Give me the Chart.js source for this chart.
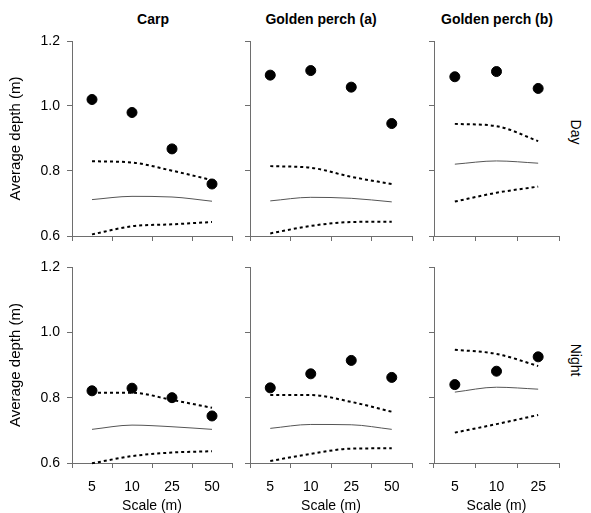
<!DOCTYPE html>
<html>
<head>
<meta charset="utf-8">
<script src="https://cdn.jsdelivr.net/npm/chart.js@4.4.1/dist/chart.umd.min.js"></script>
<style>
  body { margin: 0; background: #fff; width: 591px; height: 513px; position: relative; overflow: hidden; font-family: 'Liberation Sans', Arial, sans-serif; }
  canvas { position: absolute; }
  .ttl { position: absolute; font-weight: bold; font-size: 14px; text-align: center; white-space: nowrap; transform: translateX(-50%); }
  .row { position: absolute; font-size: 14px; writing-mode: vertical-rl; transform: translate(-50%, -50%); white-space: nowrap; }
</style>
</head>
<body>
<div class="ttl" style="left:153px; top:11px;">Carp</div>
<div class="ttl" style="left:321px; top:11px;">Golden perch (a)</div>
<div class="ttl" style="left:497px; top:11px;">Golden perch (b)</div>
<div class="row" style="left:576px; top:132px;">Day</div>
<div class="row" style="left:576px; top:360px;">Night</div>

<canvas id="carpDay" width="240" height="211" style="left:0; top:31px;"></canvas>
<canvas id="gpaDay" width="180" height="211" style="left:240px; top:31px;"></canvas>
<canvas id="gpbDay" width="145" height="211" style="left:424px; top:31px;"></canvas>
<canvas id="carpNight" width="240" height="256" style="left:0; top:257px;"></canvas>
<canvas id="gpaNight" width="180" height="256" style="left:240px; top:257px;"></canvas>
<canvas id="gpbNight" width="145" height="256" style="left:424px; top:257px;"></canvas>

<script>
// scale categories (m)
const scales4 = ['5', '10', '25', '50'];
const scales3 = ['5', '10', '25'];
const depthTicks = [0.6, 0.8, 1.0, 1.2];

// Carp - day
const carpDayObs = [1.02, 0.98, 0.868, 0.76];
const carpDayUpper = [0.83, 0.826, 0.801, 0.772];
const carpDayMid = [0.712, 0.722, 0.72, 0.707];
const carpDayLower = [0.605, 0.63, 0.636, 0.643];

// Golden perch (a) - day
const gpaDayObs = [1.095, 1.109, 1.058, 0.946];
const gpaDayUpper = [0.815, 0.81, 0.782, 0.76];
const gpaDayMid = [0.708, 0.719, 0.716, 0.705];
const gpaDayLower = [0.608, 0.631, 0.643, 0.644];

// Golden perch (b) - day
const gpbDayObs = [1.09, 1.106, 1.054];
const gpbDayUpper = [0.945, 0.938, 0.892];
const gpbDayMid = [0.821, 0.831, 0.824];
const gpbDayLower = [0.706, 0.733, 0.752];

// Carp - night
const carpNightObs = [0.821, 0.829, 0.8, 0.744];
const carpNightUpper = [0.815, 0.815, 0.793, 0.769];
const carpNightMid = [0.703, 0.716, 0.711, 0.703];
const carpNightLower = [0.599, 0.621, 0.632, 0.636];

// Golden perch (a) - night
const gpaNightObs = [0.83, 0.873, 0.914, 0.862];
const gpaNightUpper = [0.808, 0.808, 0.787, 0.757];
const gpaNightMid = [0.706, 0.718, 0.717, 0.703];
const gpaNightLower = [0.606, 0.628, 0.644, 0.645];

// Golden perch (b) - night
const gpbNightObs = [0.84, 0.881, 0.925];
const gpbNightUpper = [0.947, 0.934, 0.897];
const gpbNightMid = [0.817, 0.832, 0.826];
const gpbNightLower = [0.693, 0.719, 0.747];

Chart.defaults.font.family = "'Liberation Sans', Arial, sans-serif";
Chart.defaults.font.size = 14;
Chart.defaults.color = '#000';

const axisGrey = '#6e6e6e';

function dashed(data) {
    return {
        data: data, borderColor: '#000', borderWidth: 2, borderDash: [3, 3],
        pointRadius: 0, cubicInterpolationMode: 'monotone', fill: false
    };
}

// keep tick label overflow from moving the plot area
function noPad(scale) {
    scale.paddingTop = 0;
    scale.paddingBottom = 0;
    scale.paddingLeft = 0;
    scale.paddingRight = 0;
}

function makePanel(id, labels, obs, upper, mid, lower, firstCol, bottomRow, rightPad) {
    const ctx = document.getElementById(id).getContext('2d');
    return new Chart(ctx, {
        type: 'line',
        data: {
            labels: labels,
            datasets: [
                {
                    data: obs, showLine: false, pointRadius: 5, pointHoverRadius: 5,
                    pointBackgroundColor: '#000', pointBorderColor: '#000', borderColor: '#000'
                },
                dashed(upper),
                {
                    data: mid, borderColor: '#555', borderWidth: 1,
                    pointRadius: 0, cubicInterpolationMode: 'monotone', fill: false
                },
                dashed(lower)
            ]
        },
        options: {
            responsive: false,
            animation: false,
            clip: false,
            layout: { padding: { top: 10, right: rightPad, bottom: 0, left: 0 } },
            plugins: { legend: { display: false }, tooltip: { enabled: false } },
            scales: {
                x: {
                    type: 'category',
                    offset: true,
                    grid: { offset: true, drawOnChartArea: false, drawTicks: true, tickLength: 5, color: axisGrey },
                    border: { color: axisGrey, width: 1 },
                    ticks: { display: bottomRow, padding: 11, maxRotation: 0 },
                    title: { display: bottomRow, text: 'Scale (m)', font: { size: 14, lineHeight: 1 }, padding: { top: 0, bottom: 0 } },
                    afterFit: function(scale) {
                        scale.height = bottomRow ? 50 : 6;
                        noPad(scale);
                    }
                },
                y: {
                    min: 0.6,
                    max: 1.2,
                    afterBuildTicks: function(scale) {
                        scale.ticks = depthTicks.map(function(v) { return { value: v }; });
                    },
                    grid: { drawOnChartArea: false, drawTicks: true, tickLength: 5, color: axisGrey },
                    border: { color: axisGrey, width: 1 },
                    ticks: {
                        display: firstCol, padding: 7,
                        callback: function(v) { return Number(v).toFixed(1); }
                    },
                    title: { display: firstCol, text: 'Average depth (m)', font: { size: 15 }, padding: { top: 7, bottom: 0 } },
                    afterFit: function(scale) {
                        scale.width = firstCol ? 72 : 10;
                        noPad(scale);
                    }
                }
            }
        }
    });
}

makePanel('carpDay', scales4, carpDayObs, carpDayUpper, carpDayMid, carpDayLower, true, false, 8);
makePanel('gpaDay', scales4, gpaDayObs, gpaDayUpper, gpaDayMid, gpaDayLower, false, false, 8);
makePanel('gpbDay', scales3, gpbDayObs, gpbDayUpper, gpbDayMid, gpbDayLower, false, false, 10);
makePanel('carpNight', scales4, carpNightObs, carpNightUpper, carpNightMid, carpNightLower, true, true, 8);
makePanel('gpaNight', scales4, gpaNightObs, gpaNightUpper, gpaNightMid, gpaNightLower, false, true, 8);
makePanel('gpbNight', scales3, gpbNightObs, gpbNightUpper, gpbNightMid, gpbNightLower, false, true, 10);
</script>
</body>
</html>
